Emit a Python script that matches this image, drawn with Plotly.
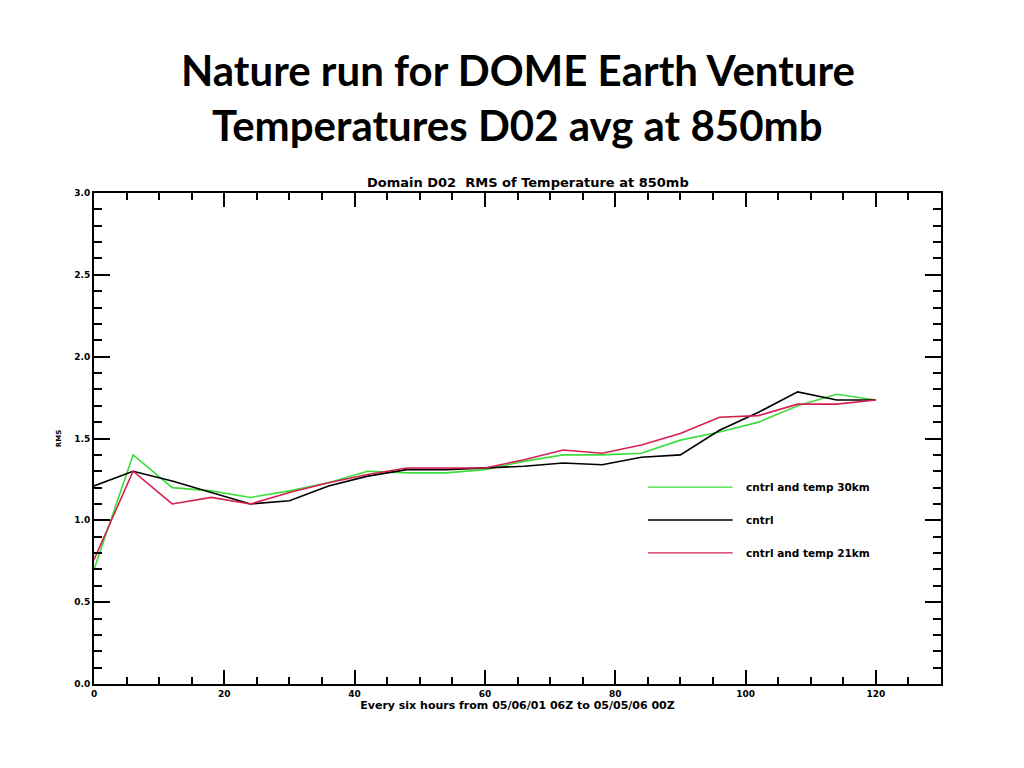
import plotly.graph_objects as go

hours = [0, 6, 12, 18, 24, 30, 36, 42, 48, 54, 60, 66, 72, 78, 84, 90, 96, 102, 108, 114, 120]
green_30km = [0.70, 1.40, 1.20, 1.18, 1.14, 1.18, 1.23, 1.30, 1.29, 1.29, 1.31, 1.36, 1.40, 1.40, 1.41, 1.49, 1.54, 1.60, 1.70, 1.77, 1.735]
black_cntrl = [1.21, 1.30, 1.24, 1.17, 1.10, 1.12, 1.21, 1.27, 1.31, 1.31, 1.32, 1.33, 1.35, 1.34, 1.385, 1.40, 1.55, 1.66, 1.785, 1.735, 1.735]
red_21km = [0.76, 1.30, 1.10, 1.14, 1.10, 1.17, 1.23, 1.28, 1.32, 1.32, 1.32, 1.37, 1.43, 1.41, 1.46, 1.53, 1.63, 1.64, 1.71, 1.71, 1.735]

series_names = ["cntrl and temp 30km", "cntrl", "cntrl and temp 21km"]
series_colors = ["#3ddc3d", "#000000", "#d4204f"]
series_values = [green_30km, black_cntrl, red_21km]

x_ticks = [0, 20, 40, 60, 80, 100, 120]
y_ticks = [0.0, 0.5, 1.0, 1.5, 2.0, 2.5, 3.0]
y_tick_labels = ["0.0", "0.5", "1.0", "1.5", "2.0", "2.5", "3.0"]

fig = go.Figure()
for name, color, vals in zip(series_names, series_colors, series_values):
    fig.add_trace(go.Scatter(x=hours, y=vals, mode="lines", name=name,
                             line=dict(color=color, width=1.6), showlegend=False))

tick_font = dict(family="DejaVu Sans", size=9, color="black")
fig.update_xaxes(range=[0, 130], tickmode="array", tickvals=x_ticks,
                 ticktext=["<b>%d</b>" % v for v in x_ticks],
                 showgrid=False, zeroline=False, showline=True, linecolor="black", linewidth=2,
                 mirror="allticks", ticks="inside", ticklen=14, tickwidth=1.5, tickcolor="black",
                 minor=dict(dtick=5, tick0=0, ticks="inside", ticklen=7, tickwidth=1.5, tickcolor="black", showgrid=False),
                 tickfont=tick_font,
                 title=dict(text="<b>Every six hours from 05/06/01 06Z to 05/05/06 00Z</b>",
                            font=dict(family="DejaVu Sans", size=11, color="black"), standoff=0))
fig.update_yaxes(range=[0, 3], tickmode="array", tickvals=y_ticks,
                 ticktext=["<b>%s</b>" % t for t in y_tick_labels],
                 showgrid=False, zeroline=False, showline=True, linecolor="black", linewidth=2,
                 mirror="allticks", ticks="inside", ticklen=16, tickwidth=1.5, tickcolor="black",
                 minor=dict(dtick=0.1, tick0=0, ticks="inside", ticklen=8, tickwidth=1.5, tickcolor="black", showgrid=False),
                 tickfont=tick_font,
                 title=dict(text="<b>RMS</b>", font=dict(family="DejaVu Sans", size=7, color="black"), standoff=12))

# legend drawn inside plot, as in the reference
leg_rows = [0.401, 0.334, 0.267]
shapes = []
annotations = []
for name, color, yy in zip(series_names, series_colors, leg_rows):
    shapes.append(dict(type="line", xref="paper", yref="paper", x0=0.654, x1=0.754, y0=yy, y1=yy,
                       line=dict(color=color, width=1.3)))
    annotations.append(dict(xref="paper", yref="paper", x=0.767, y=yy, xanchor="left", yanchor="middle",
                            text="<b>" + name + "</b>", showarrow=False,
                            font=dict(family="DejaVu Sans", size=10.5, color="black")))

annotations.append(dict(xref="paper", yref="paper", x=0.512, y=1.0, xanchor="center", yanchor="bottom",
                        text="<b>Domain D02  RMS of Temperature at 850mb</b>", showarrow=False, yshift=1,
                        font=dict(family="DejaVu Sans", size=13, color="black")))

# page title (two lines)
annotations.append(dict(xref="paper", yref="paper", x=0.5, y=1.2505, xanchor="center", yanchor="middle",
                        text="<b>Nature run for DOME Earth Venture</b>", showarrow=False,
                        font=dict(family="Lato", size=42, color="black")))
annotations.append(dict(xref="paper", yref="paper", x=0.5, y=1.1385, xanchor="center", yanchor="middle",
                        text="<b>Temperatures D02 avg at 850mb</b>", showarrow=False,
                        font=dict(family="Lato", size=42, color="black")))

fig.update_layout(
    width=1016, height=760,
    margin=dict(l=86, r=83, t=185, b=84, autoexpand=False),
    paper_bgcolor="white", plot_bgcolor="white",
    shapes=shapes, annotations=annotations,
)

fig.write_html("out.html")
